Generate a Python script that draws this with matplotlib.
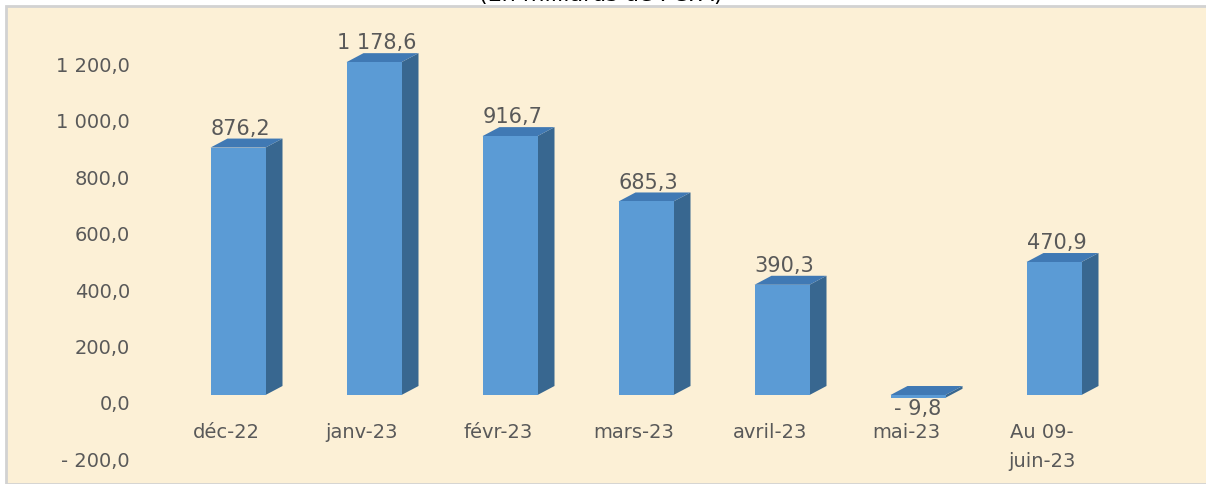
import matplotlib.pyplot as plt
from matplotlib.patches import Polygon, Rectangle

# Data (milliards de FCFA)
categories = ["déc-22", "janv-23", "févr-23", "mars-23", "avril-23", "mai-23", "Au 09-\njuin-23"]
values     = [876.2, 1178.6, 916.7, 685.3, 390.3, -9.8, 470.9]
labels     = ["876,2", "1 178,6", "916,7", "685,3", "390,3", "- 9,8", "470,9"]
yticks     = [-200, 0, 200, 400, 600, 800, 1000, 1200]
ytick_lbls = ["- 200,0", "0,0", "200,0", "400,0", "600,0", "800,0", "1 000,0", "1 200,0"]

# Layout (pixels)
W, H       = 1206, 485
X0, STEP   = 238, 136      # first bar centre, spacing
Y0, SCALE  = 396, 0.2824   # zero line, px per unit
BAR_PX     = 55
DX_PX, DY_PX = 17, 9       # 3D depth

FRONT = "#5B9BD5"
SIDE  = "#386790"
TOP   = "#4079B4"
TEXT  = "#595959"
BG    = "#FCF0D6"

plt.rcParams["font.family"] = ["DejaVu Sans"]

fig = plt.figure(figsize=(W / 100, H / 100), dpi=100)
fig.patches.append(Rectangle((6 / W, 0), 1, 1 - 7 / H, transform=fig.transFigure,
                             facecolor=BG, edgecolor="#D2D2D2", lw=2, zorder=0))
# title is cropped at the top edge in the original
fig.text(601 / W, 1 - 1 / H, "(En milliards de FCFA)", ha="center", va="baseline",
         fontsize=16, color="black")

ax = fig.add_axes([0, 0, 1, 1])
ax.set_zorder(1)
ax.set_facecolor("none")
ax.set_xlim(-X0 / STEP, (W - X0) / STEP)
ax.set_ylim((Y0 - H) / SCALE, Y0 / SCALE)
ax.axis("off")

bw = BAR_PX / STEP
dx = DX_PX / STEP
dy = DY_PX / SCALE
xs = list(range(len(values)))

ax.bar(xs, values, width=bw, color=FRONT, zorder=3)
for x, v in zip(xs, values):
    l, r = x - bw / 2, x + bw / 2
    top = max(v, 0)
    bot = min(v, 0)
    ax.add_patch(Polygon([(r, bot), (r + dx, bot + dy), (r + dx, top + dy), (r, top)],
                         closed=True, facecolor=SIDE, edgecolor="none", zorder=2))
    ax.add_patch(Polygon([(l, top), (l + dx, top + dy), (r + dx, top + dy), (r, top)],
                         closed=True, facecolor=TOP, edgecolor="none", zorder=2))

for x, v, lab in zip(xs, values, labels):
    if v >= 0:
        ax.text(x + 0.02, v + dy + 3, lab, ha="center", va="bottom",
                fontsize=15, color=TEXT)
    else:
        ax.text(x, v - 1, lab, ha="center", va="top", fontsize=15, color=TEXT)

# y tick labels (shifted down by the 3D floor depth)
for t, lab in zip(yticks, ytick_lbls):
    ax.text((130 - X0) / STEP, t - dy, lab, ha="right", va="center",
            fontsize=14, color=TEXT)

# category labels
for x, cat in zip(xs, categories):
    ax.text(x - 12 / STEP, -27 / SCALE, cat, ha="center", va="top",
            fontsize=14, color=TEXT, linespacing=1.65)

fig.savefig("out.png", dpi=100)
